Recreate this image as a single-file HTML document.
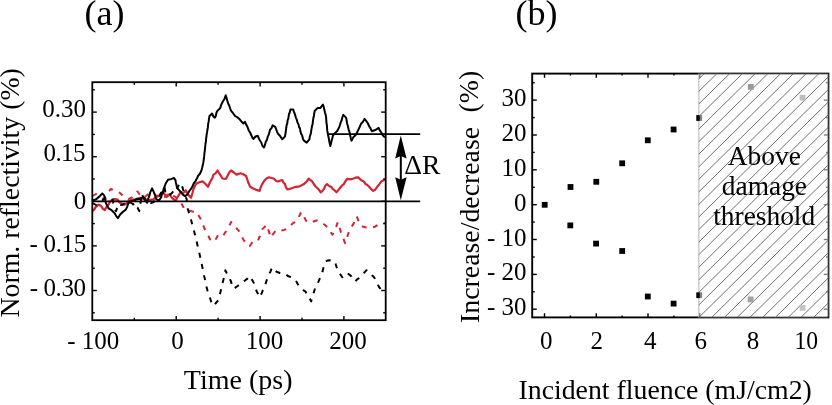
<!DOCTYPE html>
<html><head><meta charset="utf-8"><style>
html,body{margin:0;padding:0;background:#fff;}
svg{display:block;will-change:transform;}
</style></head><body>
<svg width="832" height="405" viewBox="0 0 832 405">
<rect width="832" height="405" fill="#fff"/>
<g font-family="Liberation Serif" fill="#000">
<text x="84.5" y="24.5" font-size="36">(a)</text>
<text x="515.5" y="24.5" font-size="36">(b)</text>
<text transform="translate(18.7,317.5) rotate(-90)" font-size="27.8">Norm. reflectivity (%)</text>
<text transform="translate(478.9,322.9) rotate(-90)" font-size="27.8">Increase/decrease</text>
<text transform="translate(477.9,112.5) rotate(-90)" font-size="27.8">(%)</text>
<g font-size="25" text-anchor="end">
<text x="85.9" y="117.1">0.30</text>
<text x="85.5" y="160.7" textLength="42" lengthAdjust="spacing">0.15</text>
<text x="86.3" y="209.0">0</text>
<text x="86.2" y="251.8" textLength="56.6" lengthAdjust="spacing">- 0.15</text>
<text x="86.0" y="295.8" textLength="56.3" lengthAdjust="spacing">- 0.30</text>
</g>
<g font-size="25" text-anchor="middle">
<text x="93.3" y="348.5">- 100</text>
<text x="177.5" y="348.5">0</text>
<text x="264.4" y="348.5">100</text>
<text x="348.1" y="348.5">200</text>
</g>
<text x="183.8" y="388.9" font-size="28" textLength="108.8" lengthAdjust="spacing">Time (ps)</text>
<text x="404.3" y="174.0" font-size="27.5">ΔR</text>
<g font-size="25" text-anchor="end">
<text x="526.6" y="106.3">30</text>
<text x="526.6" y="141.1">20</text>
<text x="526.6" y="175.9">10</text>
<text x="526.6" y="210.7">0</text>
<text x="526.6" y="245.5">- 10</text>
<text x="526.6" y="280.3">- 20</text>
<text x="526.6" y="315.1">- 30</text>
</g>
<g font-size="25" text-anchor="middle">
<text x="546.3" y="349.3">0</text>
<text x="596.8" y="349.3">2</text>
<text x="650.2" y="349.3">4</text>
<text x="700.7" y="349.3">6</text>
<text x="753.1" y="349.3">8</text>
<text x="806.3" y="349.3" textLength="23.6" lengthAdjust="spacingAndGlyphs">10</text>
</g>
<text x="518.5" y="398.5" font-size="27.8">Incident fluence (mJ/cm2)</text>
</g>

<!-- panel a -->
<g fill="none" stroke-linejoin="round" stroke-linecap="butt">
<polyline points="92.5,210.8 94.0,209.9 95.6,207.1 98.6,204.6 101.1,205.9 102.9,208.9 104.8,210.2 106.7,206.5 108.5,204.6 110.3,201.3 112.2,199.7 114.7,199.1 117.8,199.7 119.3,202.2 120.9,203.4 124.6,204.6 126.5,203.5 128.3,201.5 132.0,199.7 135.7,199.7 140.0,197.8 144.4,199.3 148.9,200.0 153.3,199.3 156.3,197.0 159.3,195.6 162.2,191.9 164.4,194.1 166.7,197.0 169.6,194.1 171.1,196.6 172.6,198.5 175.6,200.7 177.1,197.8 178.5,195.6 180.7,191.9 183.0,193.3 185.9,190.4 187.4,193.2 188.9,195.6 191.1,197.8 191.8,195.3 192.6,192.5 193.3,189.6 194.8,186.0 196.3,183.7 199.3,182.2 202.6,181.4 205.0,183.5 208.0,186.8 209.1,184.2 210.2,181.7 211.3,179.9 212.4,178.0 213.5,174.6 215.5,173.4 217.5,170.5 219.2,173.3 220.8,175.7 222.5,178.5 226.0,178.8 227.3,176.3 228.6,173.7 229.8,171.6 231.1,170.5 233.8,172.5 236.5,174.6 240.6,173.3 243.3,174.3 246.0,176.0 247.0,178.5 248.1,182.2 249.1,184.2 250.1,186.8 252.8,188.3 255.6,189.6 259.6,190.9 260.6,188.0 261.6,185.2 262.7,183.4 263.7,181.4 266.4,178.6 269.1,177.3 271.6,178.0 274.1,178.7 276.1,181.0 278.1,181.4 282.2,180.0 283.6,182.7 284.9,184.1 286.2,187.9 287.6,189.5 291.7,188.2 295.8,186.8 298.5,186.7 301.2,185.5 303.9,184.1 305.5,182.7 307.0,181.2 308.6,178.6 312.1,181.4 313.9,184.2 315.7,186.5 317.5,188.2 319.1,190.0 320.7,192.3 322.3,191.2 323.9,189.1 325.4,185.5 327.0,184.1 329.1,186.0 331.1,186.8 332.9,189.1 334.7,190.4 336.5,192.3 338.3,190.1 340.2,187.7 342.0,185.5 343.8,184.1 345.6,181.0 347.4,178.7 350.1,179.4 352.8,178.7 355.5,177.7 358.2,177.3 360.9,180.1 363.7,181.4 365.5,184.0 367.3,184.9 369.1,186.8 371.1,189.0 373.2,190.9 375.2,189.7 377.2,186.8 379.2,184.5 381.3,181.4 384.0,180.0 385.5,180.0" stroke="#d42434" stroke-width="2.2"/>
<polyline points="92.5,196.0 96.0,194.0 98.0,195.2 100.0,197.0 102.0,197.6 104.0,199.0 105.3,196.6 106.7,194.0 108.0,192.0 111.0,189.0 114.0,190.5 117.0,191.0 120.0,193.0 123.0,196.0 126.0,197.0 128.5,199.0 131.0,198.0 134.0,196.0 135.8,193.3 137.5,191.5 140.0,195.0 143.0,198.0 146.0,196.0 148.0,194.4 150.0,193.0 154.0,194.0 156.0,195.4 158.0,196.0 160.0,197.8 162.0,199.0 164.0,197.8 166.0,196.0 168.0,194.2 170.0,193.0 172.0,194.5 174.0,196.0 176.0,197.3 178.0,199.0 179.7,200.9 181.4,203.5 182.8,206.0 184.2,209.2 187.1,209.6 189.9,210.6 192.3,211.5 194.6,211.9 197.0,212.0 198.1,214.5 199.2,216.6 200.2,218.1 201.3,220.6 202.4,222.9 203.4,225.7 204.4,228.3 205.5,230.5 206.6,233.0 207.7,235.2 208.7,236.5 209.8,239.1 211.9,240.6 214.1,241.9 215.5,239.7 216.9,237.2 218.3,234.8 220.4,235.2 222.6,236.2 224.0,234.3 225.5,232.0 226.9,230.5 227.9,228.8 229.0,226.6 230.1,224.2 231.1,222.0 233.2,224.0 235.4,226.3 236.8,228.6 238.2,230.1 239.6,231.9 240.7,234.4 241.8,236.5 242.8,238.4 243.9,240.5 245.8,242.3 247.7,244.4 249.6,246.2 251.0,244.2 252.5,242.1 253.9,240.5 258.1,240.5 259.0,238.0 259.8,236.3 260.7,233.2 261.5,230.9 262.4,229.1 264.5,227.1 266.6,224.8 267.3,226.7 268.0,229.1 268.8,231.2 269.5,233.2 270.2,236.0 270.9,237.6 272.5,234.9 274.1,232.8 275.7,230.5 278.5,230.2 281.3,230.5 284.1,229.9 287.0,229.0 288.9,226.9 290.8,225.1 292.7,223.4 294.9,222.2 297.0,220.5 298.1,218.2 299.1,216.3 300.1,214.5 301.2,212.0 302.3,213.6 303.5,215.6 304.6,217.7 305.8,220.3 306.9,222.0 309.8,222.1 312.6,222.0 314.7,221.0 316.8,220.5 319.6,221.8 322.5,223.4 324.4,224.5 326.3,226.2 328.2,227.6 329.6,229.5 331.0,232.5 332.4,234.7 333.3,233.0 334.3,230.9 335.2,228.6 336.2,226.7 337.2,223.6 338.1,222.0 338.8,224.3 339.5,227.4 340.2,229.7 340.9,231.9 341.8,234.1 342.6,236.9 343.5,238.8 344.3,241.3 345.2,243.2 345.9,240.9 346.6,238.7 347.3,236.8 348.0,234.4 348.7,232.5 349.4,230.5 350.8,228.6 352.3,225.6 353.7,223.4 354.6,220.5 355.6,218.2 356.5,216.3 357.6,218.4 358.6,221.5 359.7,223.6 360.8,226.2 363.6,226.7 366.5,227.6 369.3,227.2 372.1,227.6 375.0,226.7 377.8,224.8 380.6,224.0 383.5,223.4 385.5,223.0" stroke="#d42434" stroke-width="2" stroke-dasharray="5 6.5"/>
<polyline points="92.5,203.0 96.0,205.0 98.0,203.6 100.0,202.0 102.0,200.7 104.0,199.0 108.0,198.5 110.2,198.6 112.5,198.2 112.9,201.0 113.3,203.2 113.8,205.7 114.2,207.7 116.0,211.1 117.1,208.1 118.3,205.9 119.4,203.4 121.1,205.1 123.0,204.5 125.0,203.0 127.0,202.1 129.0,201.0 131.2,203.0 133.3,204.2 134.1,208.5 137.6,207.7 139.3,211.1 139.7,208.2 140.0,206.1 140.4,203.4 140.8,201.3 141.2,198.8 141.5,195.8 141.9,193.8 143.2,197.3 145.1,198.4 147.0,200.0 149.0,201.3 151.0,203.0 153.0,202.4 155.0,201.0 157.0,199.8 159.0,198.0 160.0,195.0 161.0,193.0 162.0,190.0 164.5,187.0 164.9,189.5 165.4,192.7 168.0,196.0 170.0,194.6 172.0,193.0 173.6,190.8 175.2,189.3 176.7,190.8 177.5,187.7 178.4,185.9 179.2,182.9 181.7,184.8 182.4,187.0 183.1,189.5 183.9,192.7 184.6,194.7 185.6,197.1 186.6,198.7 186.8,200.9 187.1,204.1 187.3,206.1 187.6,208.5 188.6,211.5 189.3,214.0 189.9,215.8 190.6,218.8 191.3,220.6 191.9,223.2 192.5,225.9 193.1,228.3 193.8,230.1 194.4,232.6 195.0,234.8 195.6,237.6 196.2,239.5 196.7,241.7 197.3,244.2 197.8,246.8 198.4,249.0 199.0,251.1 199.6,254.3 200.1,256.5 200.7,259.0 201.3,261.8 201.8,264.5 202.2,266.5 202.7,268.7 203.2,271.2 203.6,273.8 204.1,276.0 204.7,278.1 205.3,281.6 205.8,283.2 206.4,286.5 207.0,288.8 207.7,291.3 208.4,292.6 209.1,295.5 209.8,297.2 210.5,299.5 211.2,301.6 212.6,303.3 214.1,305.9 215.5,303.5 216.9,301.8 218.3,300.2 218.9,298.4 219.5,295.3 220.0,293.6 220.6,291.5 221.2,288.8 221.8,287.0 222.3,284.1 222.9,281.8 223.4,279.7 224.0,277.4 224.5,275.3 224.9,272.3 225.4,270.3 226.5,272.7 227.6,274.9 228.6,277.1 229.7,278.9 230.8,280.9 231.8,284.3 232.9,285.9 234.0,288.8 235.9,287.2 237.7,286.0 239.6,284.5 241.5,283.5 243.4,281.5 245.3,280.3 247.4,278.6 249.6,276.0 251.0,278.4 252.5,280.5 253.9,283.1 254.6,285.0 255.3,287.0 256.0,289.1 256.7,291.6 258.1,294.1 259.5,297.3 260.6,295.4 261.6,293.5 262.7,290.6 263.8,288.8 264.5,286.2 265.2,285.0 266.0,282.4 266.7,280.2 267.4,277.9 268.1,276.0 269.2,274.0 270.2,272.1 271.2,269.6 272.3,267.5 274.5,269.6 276.6,271.8 279.9,273.0 282.8,273.3 285.6,274.4 288.5,276.3 291.3,277.3 293.4,278.2 295.5,280.1 296.9,282.5 298.4,285.2 299.8,287.2 301.7,288.3 303.6,290.3 305.5,291.5 306.6,293.9 307.7,295.6 308.9,297.7 310.0,299.0 311.1,301.4 311.8,299.0 312.5,296.3 313.2,294.6 314.0,291.7 314.7,289.5 315.4,287.2 316.5,285.4 317.7,283.0 318.8,280.9 320.0,278.1 321.1,275.9 321.8,273.5 322.5,271.4 323.2,268.8 323.9,266.2 324.6,264.0 325.3,261.7 327.5,260.6 329.6,260.2 332.4,260.8 335.2,261.7 335.9,264.7 336.6,267.1 337.4,269.3 338.1,271.6 339.5,273.5 340.9,275.2 342.3,277.3 344.5,274.7 346.6,273.0 348.8,274.2 350.9,275.9 352.3,278.0 353.7,280.0 355.1,281.5 357.0,279.5 358.9,278.1 360.8,275.9 362.7,274.3 364.6,272.3 366.5,270.2 368.6,271.8 370.7,273.0 372.1,275.2 373.6,276.7 375.0,278.7 376.1,281.0 377.1,282.7 378.1,285.1 379.2,287.2 381.4,289.6 383.5,291.5 385.5,292.0" stroke="#000" stroke-width="2" stroke-dasharray="5 6.5"/>
<polyline points="92.5,200.5 93.1,200.3 96.2,199.1 99.3,196.6 102.3,193.5 104.2,195.4 104.8,197.5 105.4,200.8 106.0,203.4 107.2,205.6 108.5,208.3 111.6,210.2 114.7,213.3 116.2,216.0 117.8,218.2 120.2,214.5 122.7,212.0 125.8,209.6 127.1,206.8 128.3,203.4 130.7,201.5 134.4,200.3 136.9,198.7 139.4,199.1 143.1,197.2 145.5,200.5 147.2,202.8 147.9,199.1 148.7,197.6 149.4,195.7 150.2,192.4 152.1,188.4 153.9,192.4 155.0,195.2 156.1,199.1 159.1,200.6 161.3,196.9 162.0,193.8 162.8,193.0 163.5,189.4 164.6,186.4 165.7,183.5 168.0,179.8 170.9,179.1 173.9,178.0 175.4,179.8 175.9,183.0 176.4,184.7 176.9,187.2 178.3,189.4 180.6,191.7 182.8,194.6 185.0,196.1 187.2,194.6 189.4,190.9 190.9,189.0 192.4,186.5 193.9,183.1 195.4,181.3 196.9,178.6 198.3,175.4 199.8,174.0 201.3,170.9 202.1,168.0 202.8,165.0 203.4,162.2 203.9,158.3 204.2,156.2 204.5,152.5 204.7,151.5 205.0,148.7 205.3,145.7 205.6,142.6 205.9,142.0 206.1,138.7 206.4,136.8 206.7,133.9 207.1,132.2 207.5,129.3 207.9,127.2 208.2,123.6 208.6,121.9 209.0,118.6 209.4,116.2 212.1,113.5 213.4,116.5 214.8,117.6 215.7,116.2 216.6,112.2 217.5,110.8 220.2,108.1 221.1,105.0 222.1,102.9 223.0,101.3 224.3,99.3 225.7,95.3 226.6,98.1 227.5,101.4 228.4,104.0 229.3,105.8 230.2,108.5 231.1,110.8 233.1,113.2 235.2,116.2 237.2,117.2 239.3,118.9 241.3,121.4 243.3,123.5 245.0,121.8 246.2,124.6 247.5,127.0 248.8,130.6 250.1,132.5 251.2,135.0 252.4,137.7 253.5,138.9 255.5,136.5 257.8,135.8 259.4,139.7 261.0,142.0 262.5,145.8 264.0,147.5 264.9,145.2 265.9,141.3 266.9,140.1 267.8,136.6 268.9,134.2 270.0,129.8 271.4,128.4 272.7,125.2 275.4,127.1 276.3,129.5 277.2,132.1 278.1,133.9 280.1,136.0 282.2,139.3 284.9,136.6 285.3,134.6 285.8,131.3 286.2,128.0 286.7,124.8 287.2,123.8 287.6,120.3 288.3,118.7 289.0,113.9 289.7,112.8 290.4,109.4 293.1,109.4 294.0,111.9 294.9,114.1 295.8,117.6 296.7,119.4 297.6,122.7 298.5,124.4 299.2,127.6 299.9,128.1 300.5,131.8 301.2,133.9 302.1,135.2 303.0,138.9 303.9,140.7 306.7,142.6 309.4,139.3 309.9,136.2 310.5,134.7 311.0,132.2 311.6,128.4 312.1,125.7 312.6,124.3 313.0,120.3 313.5,117.3 313.9,116.0 314.4,112.3 314.8,110.8 317.5,108.1 320.2,108.1 322.9,104.5 323.6,106.4 324.3,109.5 325.0,112.5 325.7,114.9 326.0,116.7 326.2,118.9 326.5,123.3 326.8,124.5 327.1,128.5 327.3,130.9 327.6,132.5 328.1,135.0 328.7,137.9 329.2,140.7 329.8,143.7 330.3,146.1 331.0,143.6 331.6,140.8 332.3,138.2 333.0,135.2 335.7,132.5 337.4,130.8 339.2,127.1 340.0,124.7 340.8,122.1 341.7,120.3 342.5,116.8 343.3,114.9 346.0,117.6 346.5,119.6 347.1,123.5 347.6,125.0 348.2,127.5 348.7,129.8 349.4,131.5 350.1,135.1 350.8,138.2 351.5,140.7 353.5,136.9 355.5,135.2 356.9,132.8 358.2,130.1 359.6,127.1 361.2,123.4 362.9,121.9 364.5,118.9 366.1,120.9 367.7,123.0 369.1,126.1 370.4,128.1 371.8,131.2 375.9,129.8 378.6,127.9 380.0,130.7 381.3,132.5 382.6,135.1 384.0,136.6 385.5,137.0" stroke="#000" stroke-width="2.0"/>
</g>
<g stroke="#000" stroke-width="1.4">
<line x1="134.3" y1="320.2" x2="134.3" y2="317.7"/>
<line x1="134.3" y1="82.2" x2="134.3" y2="84.7"/>
<line x1="176.2" y1="320.2" x2="176.2" y2="316.0"/>
<line x1="176.2" y1="82.2" x2="176.2" y2="86.4"/>
<line x1="218.1" y1="320.2" x2="218.1" y2="317.7"/>
<line x1="218.1" y1="82.2" x2="218.1" y2="84.7"/>
<line x1="260.1" y1="320.2" x2="260.1" y2="316.0"/>
<line x1="260.1" y1="82.2" x2="260.1" y2="86.4"/>
<line x1="302.0" y1="320.2" x2="302.0" y2="317.7"/>
<line x1="302.0" y1="82.2" x2="302.0" y2="84.7"/>
<line x1="343.9" y1="320.2" x2="343.9" y2="316.0"/>
<line x1="343.9" y1="82.2" x2="343.9" y2="86.4"/>
<line x1="92.3" y1="312.8" x2="94.8" y2="312.8"/>
<line x1="385.7" y1="312.8" x2="383.2" y2="312.8"/>
<line x1="92.3" y1="290.5" x2="96.8" y2="290.5"/>
<line x1="385.7" y1="290.5" x2="381.2" y2="290.5"/>
<line x1="92.3" y1="268.2" x2="94.8" y2="268.2"/>
<line x1="385.7" y1="268.2" x2="383.2" y2="268.2"/>
<line x1="92.3" y1="245.9" x2="96.8" y2="245.9"/>
<line x1="385.7" y1="245.9" x2="381.2" y2="245.9"/>
<line x1="92.3" y1="223.6" x2="94.8" y2="223.6"/>
<line x1="385.7" y1="223.6" x2="383.2" y2="223.6"/>
<line x1="92.3" y1="201.3" x2="96.8" y2="201.3"/>
<line x1="385.7" y1="201.3" x2="381.2" y2="201.3"/>
<line x1="92.3" y1="179.0" x2="94.8" y2="179.0"/>
<line x1="385.7" y1="179.0" x2="383.2" y2="179.0"/>
<line x1="92.3" y1="156.7" x2="96.8" y2="156.7"/>
<line x1="385.7" y1="156.7" x2="381.2" y2="156.7"/>
<line x1="92.3" y1="134.4" x2="94.8" y2="134.4"/>
<line x1="385.7" y1="134.4" x2="383.2" y2="134.4"/>
<line x1="92.3" y1="112.1" x2="96.8" y2="112.1"/>
<line x1="385.7" y1="112.1" x2="381.2" y2="112.1"/>
<line x1="92.3" y1="89.8" x2="94.8" y2="89.8"/>
<line x1="385.7" y1="89.8" x2="383.2" y2="89.8"/>
</g>
<line x1="92.3" y1="201.4" x2="420.2" y2="201.4" stroke="#000" stroke-width="1.8"/>
<line x1="328.4" y1="134.2" x2="420.2" y2="134.2" stroke="#000" stroke-width="1.8"/>
<rect x="92.3" y="82.2" width="293.4" height="238" fill="none" stroke="#000" stroke-width="1.8"/>
<!-- arrow -->
<line x1="400.8" y1="150" x2="400.8" y2="186" stroke="#000" stroke-width="2"/>
<path d="M400.8,135.6 L406.6,158.6 L400.8,156 L395.2,158.6 Z" fill="#000"/>
<path d="M400.8,200.2 L406.6,177.2 L400.8,179.8 L395.2,177.2 Z" fill="#000"/>

<!-- panel b -->
<g stroke="#000" stroke-width="1.4">
<line x1="544.5" y1="317.4" x2="544.5" y2="313.2"/>
<line x1="544.5" y1="73.6" x2="544.5" y2="77.8"/>
<line x1="570.4" y1="317.4" x2="570.4" y2="315.4"/>
<line x1="570.4" y1="73.6" x2="570.4" y2="75.6"/>
<line x1="596.3" y1="317.4" x2="596.3" y2="313.2"/>
<line x1="596.3" y1="73.6" x2="596.3" y2="77.8"/>
<line x1="622.1" y1="317.4" x2="622.1" y2="315.4"/>
<line x1="622.1" y1="73.6" x2="622.1" y2="75.6"/>
<line x1="648.0" y1="317.4" x2="648.0" y2="313.2"/>
<line x1="648.0" y1="73.6" x2="648.0" y2="77.8"/>
<line x1="673.9" y1="317.4" x2="673.9" y2="315.4"/>
<line x1="673.9" y1="73.6" x2="673.9" y2="75.6"/>
<line x1="699.8" y1="317.4" x2="699.8" y2="313.2"/>
<line x1="699.8" y1="73.6" x2="699.8" y2="77.8"/>
<line x1="532.2" y1="309.2" x2="536.8000000000001" y2="309.2"/>
<line x1="828.4" y1="309.2" x2="823.8" y2="309.2"/>
<line x1="532.2" y1="291.8" x2="534.7" y2="291.8"/>
<line x1="828.4" y1="291.8" x2="825.9" y2="291.8"/>
<line x1="532.2" y1="274.4" x2="536.8000000000001" y2="274.4"/>
<line x1="828.4" y1="274.4" x2="823.8" y2="274.4"/>
<line x1="532.2" y1="257.0" x2="534.7" y2="257.0"/>
<line x1="828.4" y1="257.0" x2="825.9" y2="257.0"/>
<line x1="532.2" y1="239.5" x2="536.8000000000001" y2="239.5"/>
<line x1="828.4" y1="239.5" x2="823.8" y2="239.5"/>
<line x1="532.2" y1="222.1" x2="534.7" y2="222.1"/>
<line x1="828.4" y1="222.1" x2="825.9" y2="222.1"/>
<line x1="532.2" y1="204.7" x2="536.8000000000001" y2="204.7"/>
<line x1="828.4" y1="204.7" x2="823.8" y2="204.7"/>
<line x1="532.2" y1="187.3" x2="534.7" y2="187.3"/>
<line x1="828.4" y1="187.3" x2="825.9" y2="187.3"/>
<line x1="532.2" y1="169.8" x2="536.8000000000001" y2="169.8"/>
<line x1="828.4" y1="169.8" x2="823.8" y2="169.8"/>
<line x1="532.2" y1="152.4" x2="534.7" y2="152.4"/>
<line x1="828.4" y1="152.4" x2="825.9" y2="152.4"/>
<line x1="532.2" y1="135.0" x2="536.8000000000001" y2="135.0"/>
<line x1="828.4" y1="135.0" x2="823.8" y2="135.0"/>
<line x1="532.2" y1="117.6" x2="534.7" y2="117.6"/>
<line x1="828.4" y1="117.6" x2="825.9" y2="117.6"/>
<line x1="532.2" y1="100.1" x2="536.8000000000001" y2="100.1"/>
<line x1="828.4" y1="100.1" x2="823.8" y2="100.1"/>
<line x1="532.2" y1="82.7" x2="534.7" y2="82.7"/>
<line x1="828.4" y1="82.7" x2="825.9" y2="82.7"/>
</g>
<rect x="532.2" y="73.6" width="296.2" height="243.8" fill="none" stroke="#000" stroke-width="1.9"/>
<line x1="698.9" y1="73.6" x2="698.9" y2="317.4" stroke="#bbb" stroke-width="1.2"/>
<g>
<rect x="541.8" y="201.9" width="5.8" height="5.8" fill="#000"/><rect x="567.6" y="184.1" width="5.8" height="5.8" fill="#000"/><rect x="593.4" y="178.9" width="5.8" height="5.8" fill="#000"/><rect x="619.3" y="160.4" width="5.8" height="5.8" fill="#000"/><rect x="644.9" y="137.4" width="5.8" height="5.8" fill="#000"/><rect x="670.7" y="126.6" width="5.8" height="5.8" fill="#000"/><rect x="567.4" y="222.5" width="5.8" height="5.8" fill="#000"/><rect x="593.2" y="240.7" width="5.8" height="5.8" fill="#000"/><rect x="619.3" y="248.1" width="5.8" height="5.8" fill="#000"/><rect x="644.9" y="293.6" width="5.8" height="5.8" fill="#000"/><rect x="670.7" y="300.7" width="5.8" height="5.8" fill="#000"/>
<rect x="696.3" y="115.1" width="5.8" height="5.8" fill="#000"/><rect x="696.3" y="292.3" width="5.8" height="5.8" fill="#000"/>
</g>
<rect x="699.7" y="73.6" width="128.7" height="243.8" fill="#fff" fill-opacity="0.5"/>
<g stroke="#606060" stroke-width="0.9" fill="none">
<line x1="698.8" y1="78.9" x2="704.2" y2="73.6"/>
<line x1="698.8" y1="91.4" x2="716.9" y2="73.6"/>
<line x1="698.8" y1="104.0" x2="729.7" y2="73.6"/>
<line x1="698.8" y1="116.6" x2="742.4" y2="73.6"/>
<line x1="698.8" y1="129.1" x2="755.2" y2="73.6"/>
<line x1="698.8" y1="141.7" x2="767.9" y2="73.6"/>
<line x1="698.8" y1="154.2" x2="780.7" y2="73.6"/>
<line x1="698.8" y1="166.8" x2="793.4" y2="73.6"/>
<line x1="698.8" y1="179.4" x2="806.2" y2="73.6"/>
<line x1="698.8" y1="191.9" x2="818.9" y2="73.6"/>
<line x1="698.8" y1="204.5" x2="828.4" y2="76.8"/>
<line x1="698.8" y1="217.0" x2="828.4" y2="89.4"/>
<line x1="698.8" y1="229.6" x2="828.4" y2="101.9"/>
<line x1="698.8" y1="242.1" x2="828.4" y2="114.5"/>
<line x1="698.8" y1="254.7" x2="828.4" y2="127.1"/>
<line x1="698.8" y1="267.3" x2="828.4" y2="139.6"/>
<line x1="698.8" y1="279.8" x2="828.4" y2="152.2"/>
<line x1="698.8" y1="292.4" x2="828.4" y2="164.7"/>
<line x1="698.8" y1="304.9" x2="828.4" y2="177.3"/>
<line x1="698.9" y1="317.4" x2="828.4" y2="189.8"/>
<line x1="711.7" y1="317.4" x2="828.4" y2="202.4"/>
<line x1="724.4" y1="317.4" x2="828.4" y2="215.0"/>
<line x1="737.2" y1="317.4" x2="828.4" y2="227.5"/>
<line x1="749.9" y1="317.4" x2="828.4" y2="240.1"/>
<line x1="762.7" y1="317.4" x2="828.4" y2="252.6"/>
<line x1="775.4" y1="317.4" x2="828.4" y2="265.2"/>
<line x1="788.2" y1="317.4" x2="828.4" y2="277.8"/>
<line x1="800.9" y1="317.4" x2="828.4" y2="290.3"/>
<line x1="813.7" y1="317.4" x2="828.4" y2="302.9"/>
<line x1="826.4" y1="317.4" x2="828.4" y2="315.4"/>
</g>
<rect x="747.9" y="84.0" width="5.8" height="5.8" fill="#9a9a9a"/><rect x="799.7" y="94.8" width="5.8" height="5.8" fill="#bdbdbd"/><rect x="747.7" y="296.5" width="5.8" height="5.8" fill="#a0a0a0"/><rect x="799.7" y="305.0" width="5.8" height="5.8" fill="#c4c4c4"/>
<text x="764.3" y="164.6" font-size="27.4" text-anchor="middle" font-family="Liberation Serif">Above</text>
<text x="764.4" y="195" font-size="27.4" text-anchor="middle" font-family="Liberation Serif">damage</text>
<text x="764.2" y="225" font-size="27.4" text-anchor="middle" font-family="Liberation Serif">threshold</text>
</svg>
</body></html>
